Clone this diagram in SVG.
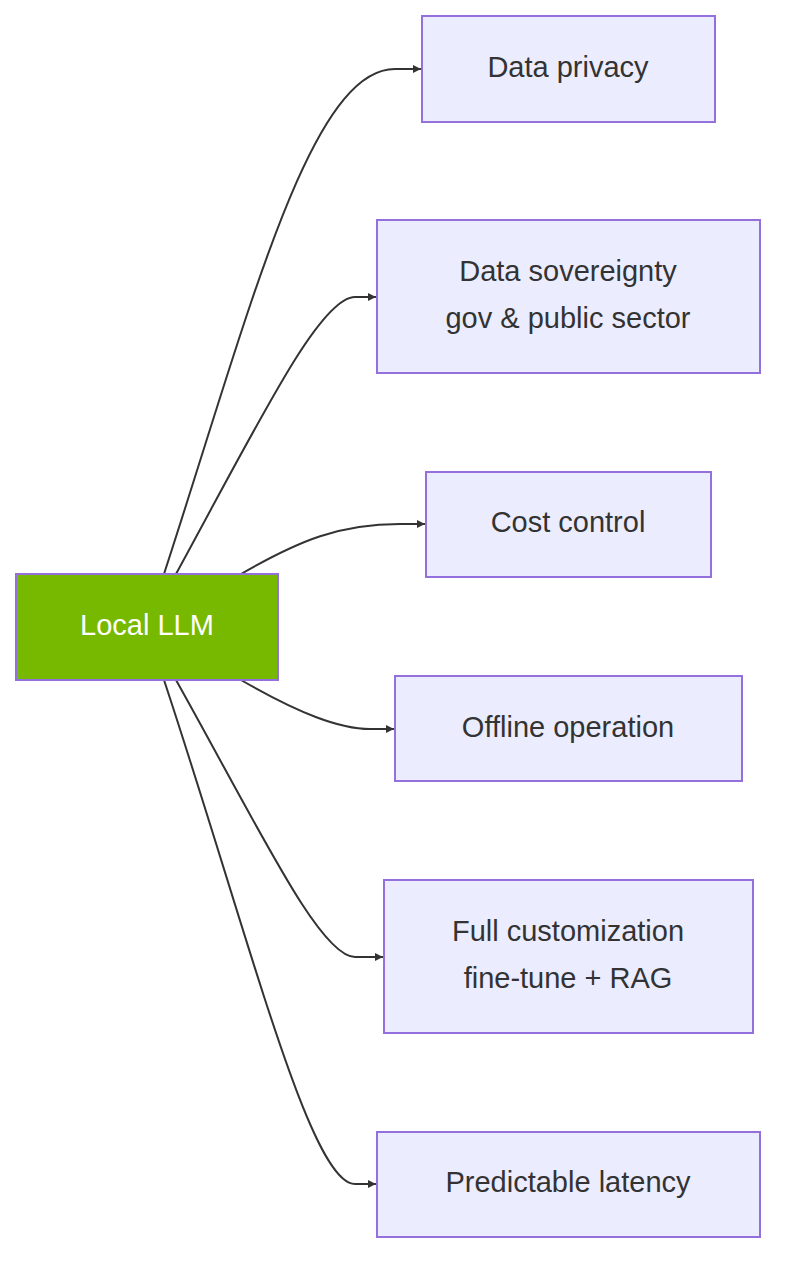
<svg xmlns="http://www.w3.org/2000/svg" width="792" height="1276" viewBox="0 0 792 1276">
<style>
.n rect{fill:#ECECFF;stroke:#9370DB;stroke-width:2}
.n text{font-family:"Liberation Sans",Arial,sans-serif;font-size:29px;fill:#333;text-anchor:middle;dominant-baseline:central}
.e path{fill:none;stroke:#333;stroke-width:2}
</style>
<defs><marker id="a" viewBox="0 0 10 10" refX="10" refY="5" markerWidth="8" markerHeight="8" markerUnits="userSpaceOnUse" orient="auto"><path d="M0,0L10,5L0,10z" fill="#333"/></marker></defs>
<rect width="792" height="1276" fill="#fff"/>
<g class="e">
<path d="M164,574 C250,310 310,69 395,69 L421,69" marker-end="url(#a)" style="marker-end:url(#a)"/>
<path d="M176,574 C260,420 320,297 355,297 L376,297" marker-end="url(#a)"/>
<path d="M241,574 C300,540 340,524 400,524 L425,524" marker-end="url(#a)"/>
<path d="M241,680 C300,714 340,729 370,729 L394,729" marker-end="url(#a)"/>
<path d="M176,680 C260,830 320,957 355,957 L383,957" marker-end="url(#a)"/>
<path d="M164,680 C250,940 310,1184 355,1184 L376,1184" marker-end="url(#a)"/>
</g>
<g id="llm" class="n"><rect x="16" y="574" width="262" height="106" style="fill:#76b900"/><text x="147" y="625" style="fill:#fff">Local LLM</text></g>
<g id="privacy" class="n"><rect x="422" y="16" width="293" height="106"/><text x="568" y="67">Data privacy</text></g>
<g id="sovereignty" class="n"><rect x="377" y="220" width="383" height="153"/><text x="568" y="271">Data sovereignty</text><text x="568" y="318">gov &amp; public sector</text></g>
<g id="cost" class="n"><rect x="426" y="472" width="285" height="105"/><text x="568" y="522">Cost control</text></g>
<g id="offline" class="n"><rect x="395" y="676" width="347" height="105"/><text x="568" y="727">Offline operation</text></g>
<g id="custom" class="n"><rect x="384" y="880" width="369" height="153"/><text x="568" y="931">Full customization</text><text x="568" y="978">fine-tune + RAG</text></g>
<g id="latency" class="n"><rect x="377" y="1132" width="383" height="105"/><text x="568" y="1182">Predictable latency</text></g>
</svg>
